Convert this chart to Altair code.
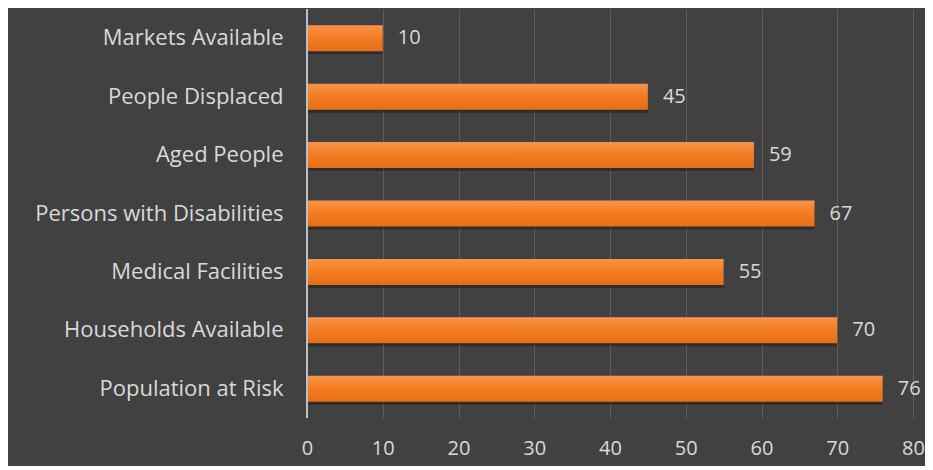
import altair as alt
import pandas as pd

categories = ["Markets Available", "People Displaced", "Aged People",
              "Persons with Disabilities", "Medical Facilities",
              "Households Available", "Population at Risk"]
values = [10, 45, 59, 67, 55, 70, 76]
x_ticks = [0, 10, 20, 30, 40, 50, 60, 70, 80]

df = pd.DataFrame({"category": categories, "value": values})

FONT = "Open Sans"
TEXT = "#d9d9d9"

bar_fill = alt.Gradient(
    gradient="linear",
    stops=[alt.GradientStop(color="#f7944a", offset=0),
           alt.GradientStop(color="#f47b20", offset=0.5),
           alt.GradientStop(color="#e56e16", offset=1)],
    x1=0, y1=0, x2=0, y2=1,
)

y_sort = alt.Y("category:N", sort=categories, title=None,
               scale=alt.Scale(paddingInner=0.55, paddingOuter=0.275),
               axis=alt.Axis(labelFont=FONT, labelFontSize=22, labelColor=TEXT,
                             labelPadding=24, ticks=False, domain=False,
                             minExtent=299, maxExtent=299, labelLimit=400))
x_enc = alt.X("value:Q", title=None,
              scale=alt.Scale(domain=[0, 80], nice=False),
              axis=alt.Axis(values=x_ticks, labelFont=FONT, labelFontSize=20,
                            labelColor=TEXT, labelPadding=20, ticks=False,
                            labelFlush=False, labelOverlap=False,
                            domain=False, grid=True, gridColor="#5e5e5e",
                            gridWidth=1))

shadow = alt.Chart(df).mark_bar(size=26, fill="#1a1a1a", opacity=0.5,
                                yOffset=3).encode(x=x_enc, y=y_sort)

bars = alt.Chart(df).mark_bar(size=26, fill=bar_fill).encode(x=x_enc, y=y_sort)

labels = alt.Chart(df).mark_text(align="left", baseline="middle", dx=15,
                                 font=FONT, fontSize=20, color=TEXT).encode(
    x="value:Q", y=alt.Y("category:N", sort=categories), text="value:Q")

zero = alt.Chart(pd.DataFrame({"z": [0]})).mark_rule(color="#b9c0c8", strokeWidth=2).encode(
    x="z:Q")

chart = alt.layer(shadow, bars, zero, labels).properties(
    width=606, height=409,
    background="#414141",
    padding={"left": 0, "top": 0, "right": 0, "bottom": 8},
).configure_view(stroke=None)

chart.save("out.html", embed_options={"renderer": "svg", "actions": False})
